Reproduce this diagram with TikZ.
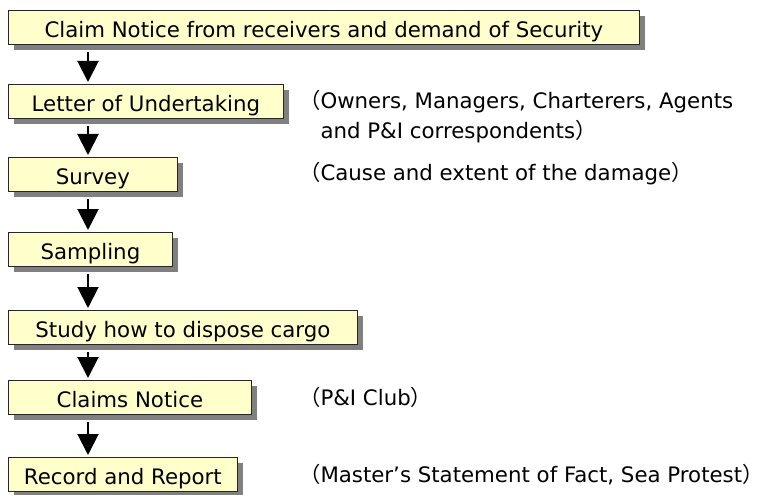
\documentclass[tikz,border=0pt]{standalone}
\usepackage{fontspec}
\setmainfont{DejaVu Sans}
\newfontfamily\cjk{Noto Sans CJK JP}
\usepackage{tikz}
\tikzset{>=latex}
\usetikzlibrary{arrows.meta,shadows}
\newcommand*{\lpar}{{\cjk （}}
\newcommand*{\rpar}{{\cjk ）}}
\definecolor{cbox}{RGB}{255,255,204}
\definecolor{cshd}{gray}{.5}
\tikzset{
  stepbox/.style={draw=black!85, fill=cbox, line width=.8pt, anchor=north west,
    minimum height=34pt, inner sep=0pt, text height=20pt, text depth=0pt,
    drop shadow={shadow xshift=6pt, shadow yshift=-6pt, fill=cshd, opacity=1}},
  flow/.style={-{Triangle[length=21pt,width=21pt]}, line width=2pt,
    shorten <=7pt, shorten >=2pt},
  note/.style={anchor=west, inner sep=0pt, align=left}
}

\begin{document}
\begin{tikzpicture}[x=1pt, y=-1pt, font=\fontsize{21.3}{30}\selectfont]
    \useasboundingbox (0, 0) rectangle (764, 495);
    \coordinate (spine) at (88, 0);
    % boxes
    \node[stepbox, minimum width=631pt] (claim) at (8, 10) {Claim Notice from receivers and demand of Security};
    \node[stepbox, minimum width=275pt] (letter) at (8, 84) {Letter of Undertaking};
    \node[stepbox, minimum width=169pt] (survey) at (8, 157) {Survey};
    \node[stepbox, minimum width=164pt] (sampling) at (8, 232) {Sampling};
    \node[stepbox, minimum width=349pt] (study) at (8, 310) {Study how to dispose cargo};
    \node[stepbox, minimum width=243pt] (notice) at (8, 380) {Claims Notice};
    \node[stepbox, minimum width=229pt] (record) at (8, 457) {Record and Report};
    % arrows
    \draw[flow](claim.south -| spine)--(letter.north -| spine);
    \draw[flow](letter.south -| spine)--(survey.north -| spine);
    \draw[flow](survey.south -| spine)--(sampling.north -| spine);
    \draw[flow](sampling.south -| spine)--(study.north -| spine);
    \draw[flow](study.south -| spine)--(notice.north -| spine);
    \draw[flow](notice.south -| spine)--(record.north -| spine);
    % remarks
    \node[note] (parties) at (299, 117) {\lpar Owners, Managers, Charterers, Agents\\\phantom{\lpar}and P\&I correspondents\rpar};
    \node[note] (cause) at (299, 174) {\lpar Cause and extent of the damage\rpar};
    \node[note] (club) at (299, 397) {\lpar P\&I Club\rpar};
    \node[note] (master) at (299, 474.5) {\lpar Master’s Statement of Fact, Sea Protest\rpar};
\end{tikzpicture}
\end{document}
